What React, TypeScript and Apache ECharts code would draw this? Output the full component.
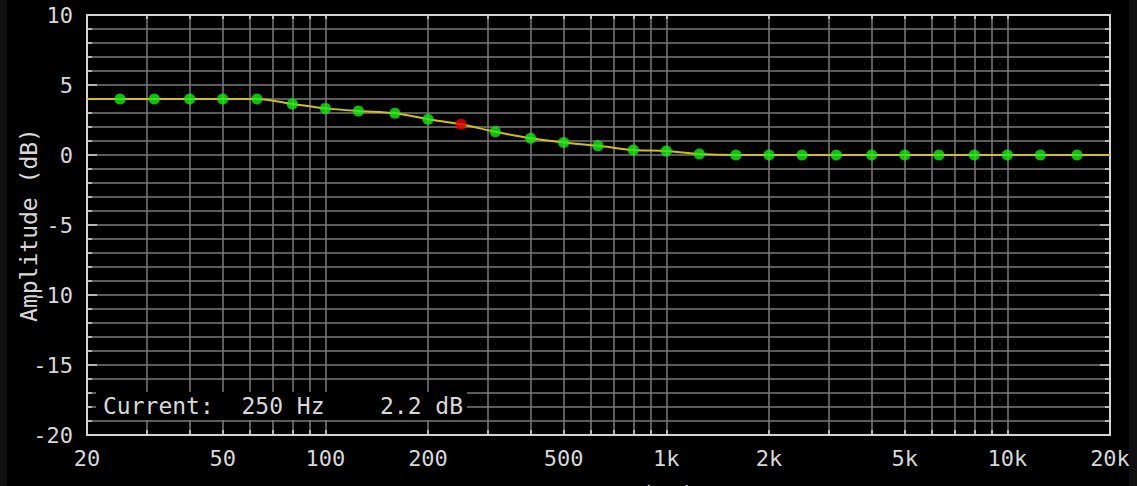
import React, { useEffect, useRef } from "react";
import * as echarts from "echarts";

// 1/3-octave measurement points (Hz) and their amplitudes (dB)
const dotFreqs = [25, 31.5, 40, 50, 63, 80, 100, 125, 160, 200, 250, 315, 400, 500, 630, 800, 1000, 1250, 1600, 2000, 2500, 3150, 4000, 5000, 6300, 8000, 10000, 12500, 16000];
const dotAmps = [4.0, 4.0, 4.0, 4.0, 4.0, 3.65, 3.33, 3.14, 2.98, 2.56, 2.2, 1.66, 1.19, 0.9, 0.66, 0.36, 0.29, 0.07, 0, 0, 0, 0, 0, 0, 0, 0, 0, 0, 0];

// response curve (Hz, dB)
const curveFreqs = [20, 25, 31.5, 40, 50, 63, 80, 100, 125, 160, 200, 250, 315, 400, 500, 630, 800, 1000, 1250, 1600, 2000, 2500, 3150, 4000, 5000, 6300, 8000, 10000, 12500, 16000, 20000];
const curveAmps = [4.0, 4.0, 4.0, 4.0, 4.0, 4.0, 3.65, 3.33, 3.14, 2.98, 2.56, 2.2, 1.66, 1.19, 0.9, 0.66, 0.36, 0.29, 0.07, 0, 0, 0, 0, 0, 0, 0, 0, 0, 0, 0, 0];

const selectedFreq = 250;
const selectedAmp = 2.2;

const gridFreqs = [20, 30, 40, 50, 60, 70, 80, 90, 100, 200, 300, 400, 500, 600, 700, 800, 900, 1000, 2000, 3000, 4000, 5000, 6000, 7000, 8000, 9000, 10000, 20000];
const labelFreqs = [20, 50, 100, 200, 500, 1000, 2000, 5000, 10000, 20000];

const FONT = "DejaVu Sans Mono";
const L = (f: number) => Math.log10(f);
const xMin = L(20);
const xMax = L(20000);

const fmtFreq = (v: number) => {
  const f = Math.round(Math.pow(10, v));
  return f >= 1000 ? f / 1000 + "k" : String(f);
};

export default function App() {
  const ref = useRef<HTMLDivElement>(null);
  useEffect(() => {
    if (!ref.current) return;
    const chart = echarts.init(ref.current, undefined, { renderer: "svg" });
    const gridColor = "#7a7a7a";
    const axisColor = "#d4d4d4";
    const textColor = "#d8d8d8";
    chart.setOption({
      animation: false,
      backgroundColor: "#000",
      grid: { left: 80, right: 19, top: 15, bottom: 51, containLabel: false, outerBoundsMode: "none" },
      xAxis: [
        {
          type: "value",
          position: "bottom",
          min: xMin,
          max: xMax,
          axisLine: { show: true, onZero: false, lineStyle: { color: axisColor, width: 2 } },
          axisTick: { show: true, inside: true, length: 5, customValues: gridFreqs.map(L), lineStyle: { color: axisColor, width: 1.5 } },
          axisLabel: { show: true, customValues: labelFreqs.map(L), formatter: fmtFreq, color: textColor, fontFamily: FONT, fontSize: 22, margin: 12 },
          splitLine: { show: true, lineStyle: { color: gridColor, width: 1.5 } },
          name: "Frequency (Hz)",
          nameLocation: "middle",
          nameGap: 48,
          nameMoveOverlap: false,
          nameTextStyle: { color: textColor, fontFamily: FONT, fontSize: 23 },
        },
        {
          type: "value",
          position: "top",
          min: xMin,
          max: xMax,
          axisLine: { show: true, onZero: false, lineStyle: { color: axisColor, width: 2 } },
          axisTick: { show: true, inside: true, length: 4, customValues: gridFreqs.map(L), lineStyle: { color: axisColor, width: 1.5 } },
          axisLabel: { show: false },
          splitLine: { show: false },
        },
      ],
      yAxis: [
        {
          type: "value",
          position: "left",
          min: -20,
          max: 10,
          interval: 5,
          axisLine: { show: true, onZero: false, lineStyle: { color: axisColor, width: 2 } },
          axisTick: { show: true, inside: true, length: 10, lineStyle: { color: axisColor, width: 1.5 } },
          minorTick: { show: true, splitNumber: 5, length: 5, lineStyle: { color: axisColor, width: 1.5 } },
          splitLine: { show: true, lineStyle: { color: gridColor, width: 1.5 } },
          minorSplitLine: { show: true, lineStyle: { color: gridColor, width: 1.5 } },
          axisLabel: { color: textColor, fontFamily: FONT, fontSize: 22, margin: 14 },
          name: "Amplitude (dB)",
          nameLocation: "middle",
          nameRotate: 90,
          nameGap: 47,
          nameMoveOverlap: false,
          nameTextStyle: { color: textColor, fontFamily: FONT, fontSize: 23 },
        },
        {
          type: "value",
          position: "right",
          min: -20,
          max: 10,
          interval: 5,
          axisLine: { show: true, onZero: false, lineStyle: { color: axisColor, width: 2 } },
          axisTick: { show: true, inside: true, length: 10, lineStyle: { color: axisColor, width: 1.5 } },
          minorTick: { show: true, splitNumber: 5, length: 5, lineStyle: { color: axisColor, width: 1.5 } },
          splitLine: { show: false },
          axisLabel: { show: false },
        },
      ],
      series: [
        {
          type: "line",
          xAxisIndex: 0,
          yAxisIndex: 0,
          data: curveFreqs.map((f, i) => [L(f), curveAmps[i]]),
          showSymbol: false,
          smooth: 0.3,
          lineStyle: { color: "#d2c400", width: 2 },
          z: 2,
        },
        {
          type: "scatter",
          xAxisIndex: 0,
          yAxisIndex: 0,
          symbolSize: 11,
          data: dotFreqs.map((f, i) => ({
            value: [L(f), dotAmps[i]],
            itemStyle: { color: f === selectedFreq ? "#f00000" : "#10f010" },
          })),
          z: 3,
        },
      ],
      graphic: [
        {
          type: "rect",
          left: 89,
          top: 392,
          shape: { width: 371, height: 28 },
          style: { fill: "#000" },
          z: 10,
        },
        {
          type: "text",
          left: 96,
          top: 394,
          style: {
            text: "Current:  " + selectedFreq + " Hz    " + selectedAmp.toFixed(1) + " dB",
            fill: textColor,
            font: "23px " + FONT,
          },
          z: 11,
        },
      ],
    });
    return () => chart.dispose();
  }, []);
  return (
    <div style={{ position: "fixed", left: 0, top: 0, width: 1137, height: 486, background: "#111", overflow: "hidden" }}>
      <div ref={ref} style={{ position: "absolute", left: 7, top: 0, width: 1122, height: 486 }} />
    </div>
  );
}
